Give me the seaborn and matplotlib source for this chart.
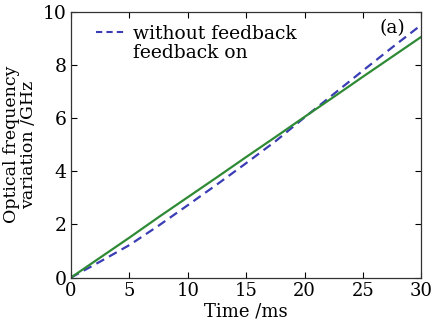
import numpy as np
import pandas as pd
import seaborn as sns
import matplotlib.pyplot as plt
from matplotlib.lines import Line2D

# data
time_ms = [0, 2.5, 5, 7.5, 10, 12.5, 15, 17.5, 20, 22.5, 25, 27.5, 30]
freq_without = [0, 0.6, 1.22, 1.95, 2.72, 3.5, 4.3, 5.12, 6.02, 6.9, 7.78, 8.65, 9.5]
freq_on = [0, 0.75, 1.5, 2.27, 3.02, 3.77, 4.53, 5.28, 6.04, 6.79, 7.55, 8.3, 9.05]

sns.set_style("ticks")
plt.rcParams['font.family'] = ['DejaVu Serif']
plt.rcParams['mathtext.fontset'] = 'dejavuserif'

fig = plt.figure(figsize=(4.33, 3.30), dpi=100)
ax = fig.add_axes([0.164, 0.159, 0.809, 0.806])

df = pd.DataFrame({"t": time_ms, "without": freq_without, "on": freq_on})
sns.lineplot(x="t", y="without", data=df, ax=ax, color="#3a3db4",
             linestyle=(0, (4, 2.5)), linewidth=1.6)
sns.lineplot(x="t", y="on", data=df, ax=ax, color="#2f8a35", linewidth=1.6)

ax.set_xlim(0, 30)
ax.set_ylim(0, 10)
ax.set_xticks([0, 5, 10, 15, 20, 25, 30])
ax.set_yticks([0, 2, 4, 6, 8, 10])
ax.tick_params(direction="in", top=True, right=True, length=4, width=0.8,
               labelsize=13.5, colors="black", pad=3)
ax.tick_params(axis="x", labelsize=13)
for s in ax.spines.values():
    s.set_color("#333333")
    s.set_linewidth(0.9)

ax.set_xlabel("Time /ms", fontsize=13, labelpad=2, color="black")
ax.set_ylabel("Optical frequency\nvariation /GHz", fontsize=12.5,
              labelpad=4, linespacing=1.0, color="black")

# legend: second entry has no visible line in the original
handles = [Line2D([], [], color="#3a3db4", linestyle=(0, (3, 2)), linewidth=1.5),
           Line2D([], [], color="none")]
leg = ax.legend(handles, ["without feedback", "feedback on"], loc="upper left",
                frameon=False, fontsize=13.5, handlelength=1.5, handletextpad=0.45,
                labelspacing=0.05, borderaxespad=0.3, bbox_to_anchor=(0.035, 1.0))
for t in leg.get_texts():
    t.set_color("black")

ax.text(0.955, 0.97, "(a)", transform=ax.transAxes, ha="right", va="top",
        fontsize=13.5, color="black")

fig.savefig("out.png", dpi=100)
